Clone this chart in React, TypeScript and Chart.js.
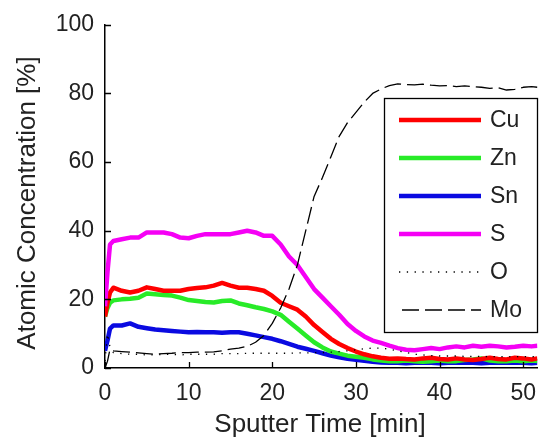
import { useEffect, useRef } from "react";
import { Chart, registerables } from "chart.js";

Chart.register(...registerables);

// Sputter time [min]
const time = [0, 0.3, 0.6, 1, 2, 3, 4, 5, 6, 7, 8, 9, 10, 11, 12, 13, 14, 15, 16, 17, 18, 19, 20, 21, 22, 23, 24, 25, 26, 27, 28, 29, 30, 31, 32, 33, 34, 35, 36, 37, 38, 39, 40, 41, 42, 43, 44, 45, 46, 47, 48, 49, 50, 51, 51.7];

const cu = [15, 19, 22, 23.4,
  22.5, 22, 22.5, 23.5, 23, 22.5, 22.5, 22.5,
  23, 23.3, 23.5, 24, 24.8, 24, 23.4, 23.4, 23, 22.5,
  21, 19, 18, 17, 15, 12.5, 10.5, 8.5, 7, 5.8,
  4.8, 4, 3.4, 3, 2.7, 2.8, 2.6, 2.5, 2.8, 3,
  2.6, 2.5, 2.8, 2.5, 2.3, 2.6, 3, 2.6, 2.5, 3,
  2.8, 2.5, 2.8];

const zn = [15, 17.5, 19, 19.7,
  20, 20.2, 20.5, 21.7, 21.5, 21.3, 21.1, 20.5,
  19.8, 19.5, 19.2, 19.1, 19.5, 19.7, 18.8, 18.3, 17.7, 17.2,
  16.5, 15.5, 13.5, 11.5, 9.5, 7.5, 6, 4.8, 4.2, 3.6,
  3.3, 3, 2.5, 2.2, 2, 2, 2.2, 2, 1.8, 2,
  2.2, 2, 2, 2.3, 2.5, 2.8, 2.2, 2, 2, 2.2,
  2, 2.2, 2];

const sn = [5, 8, 11.5, 12.4,
  12.4, 13, 12, 11.6, 11.2, 11, 10.8, 10.6,
  10.4, 10.5, 10.4, 10.4, 10.3, 10.4, 10.4, 10, 9.5, 9,
  8.5, 7.8, 7, 6.2, 5.6, 5, 4.3, 3.6, 3.1, 2.7,
  2.4, 2.1, 1.8, 1.6, 1.5, 1.5, 1.4, 1.5, 1.6, 1.5,
  1.4, 1.5, 1.5, 1.6, 1.5, 1.4, 1.5, 1.5, 1.6, 1.5,
  1.5, 1.4, 1.5];

const s = [18, 28, 36, 37,
  37.5, 38, 38, 39.5, 39.5, 39.5, 39, 38,
  37.8, 38.5, 39, 39, 39, 39, 39.5, 40, 39.5, 38.5,
  38.5, 36, 32.5, 30, 26.5, 23, 20.5, 18, 15.5, 12.8,
  10.8, 9.2, 8, 7.3, 6.5, 5.8, 5.3, 5.2, 5.5, 5.8,
  5.5, 6, 6.3, 6, 6.5, 6.2, 6.5, 6.3, 6, 6.2,
  6.5, 6.3, 6.5];

const o = [2, 10, 6, 4.5,
  4.2, 4, 4, 3.8, 3.8, 4, 4, 3.8,
  4, 4, 4, 4, 4.2, 4.2, 4.2, 4.3, 4.3, 4.3,
  4.3, 4.3, 4.3, 4.4, 4.4, 4.5, 4.5, 4.6, 4.8, 5,
  5.3, 5.6, 5.8, 5.8, 5.5, 5, 4.5, 4, 3.8, 3.6,
  3.5, 3.5, 3.5, 3.4, 3.4, 3.4, 3.3, 3.3, 3.3, 3.3,
  3.3, 3.3, 3.3];

const mo = [0, 2, 5.5, 5,
  4.8, 4.6, 4.4, 4.2, 4, 4.2, 4.3, 4.5,
  4.5, 4.6, 4.6, 4.7, 5, 5.5, 5.8, 6.3, 7.5, 9.5,
  13, 17.5, 23, 30, 40, 50, 55.5, 61.5, 67.5, 71.5,
  74.5, 77.5, 80, 81.3, 82.3, 82.8, 82.6, 82.5, 82.7, 82.4,
  82.2, 82.3, 82, 82.2, 82, 81.8, 81.5, 81.7, 81, 81.2,
  81.8, 82, 81.8];

const xTicks = [0, 10, 20, 30, 40, 50];
const yTicks = [0, 20, 40, 60, 80, 100];

const xTitle = "Sputter Time [min]";
const yTitle = "Atomic Concentration [%]";

const legendLabels = ["Cu", "Zn", "Sn", "S", "O", "Mo"];

const FONT = '"Liberation Sans", Arial, Helvetica, sans-serif';

const styles: Record<string, { color: string; width: number; dash: number[] }> = {
  Cu: { color: "rgb(255,0,0)", width: 4.5, dash: [] },
  Zn: { color: "rgb(40,235,40)", width: 4.5, dash: [] },
  Sn: { color: "rgb(10,10,225)", width: 4.5, dash: [] },
  S: { color: "rgb(245,0,245)", width: 4.5, dash: [] },
  O: { color: "#000", width: 1.3, dash: [1.3, 6.5] },
  Mo: { color: "#000", width: 1.3, dash: [17, 6] },
};

const seriesMap: Record<string, number[]> = { Cu: cu, Zn: zn, Sn: sn, S: s, O: o, Mo: mo };
const drawOrder: Record<string, number> = { Cu: 3, Zn: 4, Sn: 5, S: 2, O: 1, Mo: 0 };

const overlay = {
  id: "overlay",
  afterDraw(chart: any) {
    const { ctx, chartArea: a, scales } = chart;
    const xs = scales.x;
    const ys = scales.y;
    ctx.save();
    ctx.strokeStyle = "#000";
    ctx.lineWidth = 1.3;
    ctx.setLineDash([]);
    ctx.beginPath();
    for (const v of xTicks) {
      const px = Math.round(xs.getPixelForValue(v)) + 0.5;
      ctx.moveTo(px, a.bottom);
      ctx.lineTo(px, a.bottom - 6);
    }
    for (const v of yTicks) {
      const py = Math.round(ys.getPixelForValue(v)) + 0.5;
      ctx.moveTo(a.left, py);
      ctx.lineTo(a.left + 6, py);
    }
    ctx.stroke();

    // axis titles
    ctx.fillStyle = "#222";
    ctx.font = `26px ${FONT}`;
    ctx.textAlign = "center";
    ctx.textBaseline = "middle";
    ctx.fillText(xTitle, 320, 425);
    ctx.save();
    ctx.translate(28, 203);
    ctx.rotate(-Math.PI / 2);
    ctx.fillText(yTitle, 0, 0);
    ctx.restore();

    // legend
    const lx = 384, ly = 98, lw = 153, lh = 234;
    ctx.fillStyle = "#fff";
    ctx.fillRect(lx, ly, lw, lh);
    ctx.strokeStyle = "#000";
    ctx.lineWidth = 1.3;
    ctx.strokeRect(lx + 0.5, ly + 0.5, lw, lh);
    ctx.font = `23px ${FONT}`;
    ctx.textAlign = "left";
    ctx.textBaseline = "middle";
    legendLabels.forEach((lab, i) => {
      const st = styles[lab];
      const yy = 120 + i * 38;
      ctx.strokeStyle = st.color;
      ctx.lineWidth = st.width;
      ctx.setLineDash(st.dash);
      ctx.beginPath();
      ctx.moveTo(lab === "Mo" ? 402 : 399, yy);
      ctx.lineTo(481, yy);
      ctx.stroke();
      ctx.setLineDash([]);
      ctx.fillStyle = "#222";
      ctx.fillText(lab, 490, yy + 1);
    });
    ctx.restore();
  },
};

export default function App() {
  const ref = useRef<HTMLCanvasElement | null>(null);

  useEffect(() => {
    if (!ref.current) return;
    const datasets = legendLabels.map((lab) => {
      const st = styles[lab];
      const vals = seriesMap[lab];
      return {
        label: lab,
        data: time.map((t, i) => ({ x: t, y: vals[i] })),
        borderColor: st.color,
        backgroundColor: st.color,
        borderWidth: st.width,
        borderDash: st.dash,
        pointRadius: 0,
        tension: 0,
        fill: false,
        order: drawOrder[lab],
        borderJoinStyle: "round" as const,
      };
    });
    const tickFont = { family: FONT, size: 23 };
    const chart = new Chart(ref.current, {
      type: "line",
      data: { datasets },
      options: {
        animation: false,
        responsive: false,
        devicePixelRatio: 1,
        layout: { padding: { top: 22, right: 0, left: 0, bottom: 0 } },
        plugins: { legend: { display: false }, tooltip: { enabled: false } },
        scales: {
          x: {
            type: "linear",
            min: 0,
            max: 51.7,
            afterBuildTicks: (sc: any) => {
              sc.ticks = xTicks.map((v) => ({ value: v }));
            },
            afterFit: (sc: any) => {
              sc.height = 72;
            },
            grid: { display: true, drawOnChartArea: false, drawTicks: false },
            border: { display: true, color: "#000", width: 1.5 },
            ticks: { font: tickFont, color: "#222", padding: 12, maxRotation: 0, autoSkip: false },
          },
          y: {
            type: "linear",
            min: 0,
            max: 100,
            afterBuildTicks: (sc: any) => {
              sc.ticks = yTicks.map((v) => ({ value: v }));
            },
            afterFit: (sc: any) => {
              sc.width = 105;
            },
            grid: { display: true, drawOnChartArea: false, drawTicks: false },
            border: { display: true, color: "#000", width: 1.5 },
            ticks: { font: tickFont, color: "#222", padding: 11, autoSkip: false },
          },
        },
      },
      plugins: [overlay],
    } as any);
    return () => chart.destroy();
  }, []);

  return (
    <div style={{ position: "absolute", left: 0, top: 0, width: 548, height: 440, background: "#fff" }}>
      <canvas ref={ref} width={548} height={440} style={{ display: "block", width: 548, height: 440 }} />
    </div>
  );
}
